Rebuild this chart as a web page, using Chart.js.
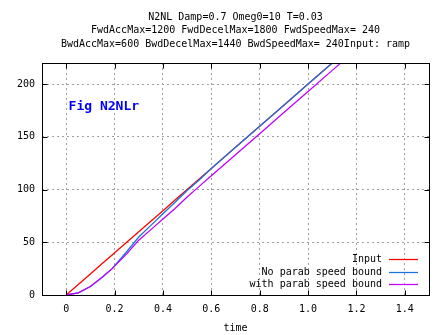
<!DOCTYPE html>
<html lang="en">
<head>
    <meta charset="UTF-8">
    <title>N2NL ramp response</title>
    <script src="https://cdn.jsdelivr.net/npm/chart.js"></script>
    <style>
        body {
            margin: 0;
            background: #fff;
        }
        #wrap {
            width: 447px;
            height: 335px;
        }
    </style>
</head>
<body>

<div id="wrap">
    <canvas id="respChart" width="447" height="335"></canvas>
</div>

<script>
// time axis samples and the three responses
const times      = [0, 0.05, 0.1, 0.15, 0.19, 0.25, 0.3, 0.35, 0.4, 0.45, 0.5, 0.55, 0.6, 0.7, 0.8, 0.9, 1.0, 1.1, 1.14];
const inputRamp  = [0, 10, 20, 30, 38, 50, 60, 70, 80, 90, 100, 110, 120, 140, 160, 180, 200, 220, 228];
const noParab    = [0, 2, 8, 17, 25, 41, 55, 66, 77, 88, 99, 109, 120, 140, 160, 180, 200, 220, 228];
const withParab  = [0, 2, 8, 17, 25, 39, 52, 62, 72, 82, 93, 103, 113, 133, 153, 173, 193, 213, 221];

const seriesNames = ['Input', 'No parab speed bound', 'with parab speed bound'];
const xTickValues = [0, 0.2, 0.4, 0.6, 0.8, 1, 1.2, 1.4];
const yTickValues = [0, 50, 100, 150, 200];

const titleLines = [
    'N2NL Damp=0.7 Omeg0=10 T=0.03',
    'FwdAccMax=1200 FwdDecelMax=1800 FwdSpeedMax= 240',
    'BwdAccMax=600 BwdDecelMax=1440 BwdSpeedMax= 240Input: ramp'
];
const figTag = 'Fig N2NLr';

const MONO = '"DejaVu Sans Mono", monospace';

function toPoints(ys) {
    return times.map((t, i) => ({ x: t, y: ys[i] }));
}

// gnuplot-like frame, inward ticks, title, key and tag
const plotDecor = {
    id: 'plotDecor',
    afterDraw(chart) {
        const ctx = chart.ctx;
        const a = chart.chartArea;
        const xs = chart.scales.x;
        const ys = chart.scales.y;
        ctx.save();

        ctx.fillStyle = '#000';
        ctx.font = '10px ' + MONO;
        ctx.textAlign = 'center';
        ctx.textBaseline = 'middle';
        const cx = (a.left + a.right) / 2;
        titleLines.forEach((line, i) => ctx.fillText(line, cx, 17 + i * 13.5));

        const l = Math.round(a.left) + 0.5, r = Math.round(a.right) + 0.5;
        const t = Math.round(a.top) + 0.5, b = Math.round(a.bottom) + 0.5;
        ctx.strokeStyle = '#000';
        ctx.lineWidth = 1;
        ctx.setLineDash([]);
        ctx.strokeRect(l, t, r - l, b - t);

        const tl = 5;
        ctx.beginPath();
        xTickValues.forEach(v => {
            const px = Math.round(xs.getPixelForValue(v)) + 0.5;
            ctx.moveTo(px, b); ctx.lineTo(px, b - tl);
            ctx.moveTo(px, t); ctx.lineTo(px, t + tl);
        });
        yTickValues.forEach(v => {
            const py = Math.round(ys.getPixelForValue(v)) + 0.5;
            ctx.moveTo(l, py); ctx.lineTo(l + tl, py);
            ctx.moveTo(r, py); ctx.lineTo(r - tl, py);
        });
        ctx.stroke();

        // key, bottom right inside the plot
        ctx.font = '10px ' + MONO;
        ctx.textAlign = 'right';
        ctx.lineWidth = 1.25;
        const rows = chart.data.datasets.length;
        chart.data.datasets.forEach((ds, i) => {
            const y = Math.round(a.bottom - 11 - (rows - 1 - i) * 12.5) + 0.5;
            ctx.fillStyle = '#000';
            ctx.fillText(ds.label, a.right - 47, y);
            ctx.strokeStyle = ds.borderColor;
            ctx.beginPath();
            ctx.moveTo(a.right - 40, y);
            ctx.lineTo(a.right - 11, y);
            ctx.stroke();
        });

        ctx.font = 'bold 13px ' + MONO;
        ctx.fillStyle = '#0000ff';
        ctx.textAlign = 'left';
        ctx.fillText(figTag, xs.getPixelForValue(0.01), ys.getPixelForValue(179));

        ctx.restore();
    }
};

Chart.defaults.font.family = MONO;
Chart.defaults.font.size = 10;
Chart.defaults.color = '#000';

const ctx = document.getElementById('respChart').getContext('2d');
new Chart(ctx, {
    type: 'line',
    data: {
        datasets: [
            { label: seriesNames[0], data: toPoints(inputRamp), borderColor: '#ff0000', order: 3 },
            { label: seriesNames[1], data: toPoints(noParab),   borderColor: '#1874dc', order: 2 },
            { label: seriesNames[2], data: toPoints(withParab), borderColor: '#c000ff', order: 1 }
        ]
    },
    options: {
        responsive: false,
        animation: false,
        layout: { padding: { top: 63, right: 18, left: 0, bottom: 0 } },
        elements: {
            line: { borderWidth: 1.3, tension: 0, fill: false },
            point: { radius: 0 }
        },
        datasets: { line: { clip: 0 } },
        scales: {
            x: {
                type: 'linear',
                min: -0.1,
                max: 1.5,
                afterBuildTicks: s => { s.ticks = xTickValues.map(v => ({ value: v })); },
                afterFit: s => { s.height = 40; },
                grid: { color: '#a0a0a0', drawTicks: false },
                border: { display: false, dash: [2, 3] },
                ticks: { padding: 8, maxRotation: 0, autoSkip: false },
                title: { display: true, text: 'time', padding: { top: 0, bottom: 1 } }
            },
            y: {
                type: 'linear',
                min: 0,
                max: 220,
                afterBuildTicks: s => { s.ticks = yTickValues.map(v => ({ value: v })); },
                afterFit: s => { s.width = 42; },
                grid: { color: '#a0a0a0', drawTicks: false },
                border: { display: false, dash: [2, 3] },
                ticks: { padding: 7, autoSkip: false }
            }
        },
        plugins: {
            legend: { display: false },
            tooltip: { enabled: false },
            title: { display: false }
        }
    },
    plugins: [plotDecor]
});
</script>
</body>
</html>
